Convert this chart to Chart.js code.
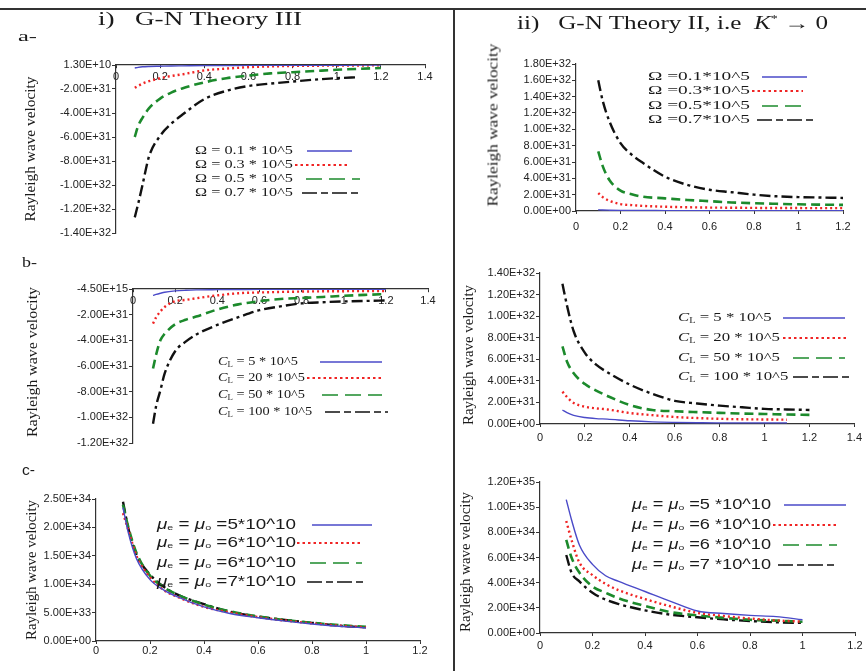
<!DOCTYPE html>
<html><head><meta charset="utf-8">
<script src="https://cdn.jsdelivr.net/npm/chart.js@4.4.1/dist/chart.umd.min.js"></script>
<style>
html,body{margin:0;padding:0;background:#fff;width:866px;height:671px;overflow:hidden;position:relative;}
canvas{position:absolute;left:0;top:0;}
.t{position:absolute;white-space:nowrap;transform-origin:0 50%;color:#1a1a1a;font-family:'Liberation Serif',serif;}
.vt{position:absolute;white-space:nowrap;color:#1a1a1a;font-family:'Liberation Serif',serif;font-size:15px;line-height:17px;}
.hl{position:absolute;background:#333;}
</style></head><body>
<canvas id="ia" width="866" height="671"></canvas>
<canvas id="ib" width="866" height="671"></canvas>
<canvas id="ic" width="866" height="671"></canvas>
<canvas id="iia" width="866" height="671"></canvas>
<canvas id="iib" width="866" height="671"></canvas>
<canvas id="iic" width="866" height="671"></canvas>

<div class="hl" style="left:0;top:8px;width:866px;height:2px"></div>
<div class="hl" style="left:453px;top:8px;width:2px;height:663px"></div>
<div class="t" data-w="204" style="left:98px;top:7px;font-size:18px;line-height:24px">i)&nbsp;&nbsp; G-N Theory III</div>
<div class="t" data-w="311" style="left:517px;top:7px;font-size:18px;line-height:24px">ii)&nbsp;&nbsp; G-N Theory II, i.e&nbsp;&nbsp;<i>K</i><sup style="font-size:10px">*</sup> &rarr; 0</div>
<div class="t" data-w="19" style="left:18px;top:27px;font-size:15px;line-height:18px">a-</div>
<div class="t" data-w="15" style="left:22px;top:253px;font-size:15px;line-height:18px">b-</div>
<div class="t" data-w="13" style="left:22px;top:461px;font-size:14px;line-height:18px;font-family:'Liberation Sans',sans-serif">c-</div>

<div class="vt" data-w="145" style="left:30px;top:149px">Rayleigh wave velocity</div>
<div class="vt" data-w="163" style="left:493px;top:125px">Rayleigh wave velocity</div>
<div class="vt" data-w="150" style="left:32px;top:362px">Rayleigh wave velocity</div>
<div class="vt" data-w="140" style="left:468px;top:355px">Rayleigh wave velocity</div>
<div class="vt" data-w="140" style="left:31px;top:570px">Rayleigh wave velocity</div>
<div class="vt" data-w="140" style="left:465px;top:562px">Rayleigh wave velocity</div>

<script>
// ================= DATA =================
// Panel i-a : G-N Theory III, varying Omega
const xIa = [0.085, 0.1, 0.12, 0.15, 0.2, 0.25, 0.3, 0.4, 0.5, 0.6, 0.7, 0.8, 0.9, 1.0, 1.1, 1.2];
const iaOm01 = [-0.25e31, -0.2e31, -0.15e31, -0.12e31, -0.1e31, -0.08e31, -0.07e31, -0.05e31, -0.04e31, -0.03e31, -0.03e31, -0.02e31, -0.02e31, -0.02e31, -0.01e31, -0.01e31];
const iaOm03 = [-1.9e31, -1.75e31, -1.55e31, -1.35e31, -1.1e31, -0.92e31, -0.78e31, -0.45e31, -0.3e31, -0.18e31, -0.12e31, -0.08e31, -0.06e31, -0.05e31, -0.04e31, -0.03e31];
const iaOm05 = [-6.0e31, -5.1e31, -4.4e31, -3.6e31, -2.8e31, -2.3e31, -1.95e31, -1.45e31, -1.1e31, -0.88e31, -0.7e31, -0.6e31, -0.5e31, -0.4e31, -0.32e31, -0.25e31];
const iaOm07 = [-12.7e31, -11.6e31, -10.0e31, -7.6e31, -5.9e31, -4.9e31, -4.15e31, -2.85e31, -2.15e31, -1.75e31, -1.55e31, -1.38e31, -1.22e31, -1.1e31, -1.02e31, null];
const iaLabels = ["Ω = 0.1 * 10^5", "Ω = 0.3 * 10^5", "Ω = 0.5 * 10^5", "Ω = 0.7 * 10^5"];
const iaYTicks = [-1.4e32, -1.2e32, -1.0e32, -8e31, -6e31, -4e31, -2e31, 0];
const iaYTickLabels = ["-1.40E+32", "-1.20E+32", "-1.00E+32", "-8.00E+31", "-6.00E+31", "-4.00E+31", "-2.00E+31", "1.30E+10"];

// Panel i-b : G-N Theory III, varying C_L
const xIb = [0.095, 0.11, 0.13, 0.15, 0.2, 0.25, 0.3, 0.4, 0.5, 0.6, 0.7, 0.8, 0.9, 1.0, 1.1, 1.2];
const ibC5 = [-0.5e31, -0.42e31, -0.33e31, -0.25e31, -0.15e31, -0.1e31, -0.07e31, -0.05e31, -0.04e31, -0.03e31, -0.03e31, -0.02e31, -0.02e31, -0.02e31, -0.02e31, -0.02e31];
const ibC20 = [-2.7e31, -2.2e31, -1.75e31, -1.4e31, -0.95e31, -0.85e31, -0.72e31, -0.5e31, -0.33e31, -0.27e31, -0.23e31, -0.2e31, -0.18e31, -0.17e31, -0.16e31, -0.15e31];
const ibC50 = [-6.2e31, -5.1e31, -4.0e31, -3.5e31, -2.75e31, -2.4e31, -2.15e31, -1.6e31, -1.2e31, -0.95e31, -0.78e31, -0.7e31, -0.62e31, -0.53e31, -0.46e31, -0.4e31];
const ibC100 = [-10.5e31, -9.1e31, -7.9e31, -6.6e31, -4.85e31, -4.1e31, -3.55e31, -2.8e31, -2.2e31, -1.65e31, -1.35e31, -1.12e31, -1.03e31, -0.97e31, -0.93e31, -0.9e31];
const ibLabels = ["C_L = 5 * 10^5", "C_L = 20 * 10^5", "C_L = 50 * 10^5", "C_L = 100 * 10^5"];
const ibYTicks = [-1.2e32, -1.0e32, -8e31, -6e31, -4e31, -2e31, 0];
const ibYTickLabels = ["-1.20E+32", "-1.00E+32", "-8.00E+31", "-6.00E+31", "-4.00E+31", "-2.00E+31", "-4.50E+15"];

// Panel i-c : G-N Theory III, varying mu
const xIc = [0.1, 0.12, 0.15, 0.2, 0.25, 0.3, 0.4, 0.5, 0.6, 0.7, 0.8, 0.9, 1.0];
const icMu5 = [2.35e34, 1.9e34, 1.45e34, 1.08e34, 0.9e34, 0.78e34, 0.6e34, 0.48e34, 0.41e34, 0.35e34, 0.3e34, 0.26e34, 0.23e34];
const icMu6a = [2.25e34, 1.95e34, 1.5e34, 1.12e34, 0.9e34, 0.78e34, 0.6e34, 0.5e34, 0.42e34, 0.36e34, 0.31e34, 0.27e34, 0.24e34];
const icMu6b = [2.4e34, 2.0e34, 1.55e34, 1.15e34, 0.95e34, 0.82e34, 0.64e34, 0.52e34, 0.43e34, 0.37e34, 0.32e34, 0.28e34, 0.25e34];
const icMu7 = [2.45e34, 1.98e34, 1.52e34, 1.17e34, 0.96e34, 0.82e34, 0.65e34, 0.51e34, 0.43e34, 0.37e34, 0.32e34, 0.27e34, 0.24e34];
const icLabels = ["μ_e = μ_o =5*10^10", "μ_e = μ_o =6*10^10", "μ_e = μ_o =6*10^10", "μ_e = μ_o =7*10^10"];
const icYTicks = [0, 5e33, 1e34, 1.5e34, 2e34, 2.5e34];
const icYTickLabels = ["0.00E+00", "5.00E+33", "1.00E+34", "1.50E+34", "2.00E+34", "2.50E+34"];

// Panel ii-a : G-N Theory II, varying Omega
const xIIa = [0.1, 0.12, 0.15, 0.2, 0.25, 0.3, 0.4, 0.5, 0.6, 0.7, 0.8, 0.9, 1.0, 1.1, 1.2];
const iiaOm01 = [0.15e31, 0.12e31, 0.1e31, 0.08e31, 0.07e31, 0.06e31, 0.05e31, 0.04e31, 0.04e31, 0.03e31, 0.03e31, 0.03e31, 0.03e31, 0.03e31, 0.03e31];
const iiaOm03 = [2.2e31, 1.7e31, 1.25e31, 0.85e31, 0.72e31, 0.63e31, 0.52e31, 0.46e31, 0.42e31, 0.4e31, 0.38e31, 0.37e31, 0.36e31, 0.35e31, 0.35e31];
const iiaOm05 = [7.3e31, 5.5e31, 3.8e31, 2.5e31, 2.05e31, 1.75e31, 1.55e31, 1.35e31, 1.2e31, 1.05e31, 0.95e31, 0.88e31, 0.82e31, 0.78e31, 0.75e31];
const iiaOm07 = [16.0e31, 13.5e31, 11.0e31, 8.3e31, 6.9e31, 5.9e31, 4.2e31, 3.2e31, 2.6e31, 2.3e31, 2.0e31, 1.8e31, 1.7e31, 1.65e31, 1.6e31];
const iiaLabels = ["Ω =0.1*10^5", "Ω =0.3*10^5", "Ω =0.5*10^5", "Ω =0.7*10^5"];
const iiaYTicks = [0, 2e31, 4e31, 6e31, 8e31, 1e32, 1.2e32, 1.4e32, 1.6e32, 1.8e32];
const iiaYTickLabels = ["0.00E+00", "2.00E+31", "4.00E+31", "6.00E+31", "8.00E+31", "1.00E+32", "1.20E+32", "1.40E+32", "1.60E+32", "1.80E+32"];

// Panel ii-b : G-N Theory II, varying C_L
const xIIb = [0.1, 0.12, 0.15, 0.2, 0.25, 0.3, 0.4, 0.5, 0.6, 0.7, 0.8, 0.9, 1.0, 1.1, 1.2];
const iibC5 = [1.3e31, 1.05e31, 0.8e31, 0.6e31, 0.5e31, 0.45e31, 0.3e31, 0.2e31, 0.15e31, 0.12e31, 0.1e31, 0.1e31, 0.1e31, 0.1e31, null];
const iibC20 = [3.0e31, 2.5e31, 1.95e31, 1.6e31, 1.45e31, 1.35e31, 1.02e31, 0.82e31, 0.65e31, 0.55e31, 0.48e31, 0.44e31, 0.42e31, 0.4e31, null];
const iibC50 = [7.2e31, 5.8e31, 4.7e31, 3.7e31, 3.1e31, 2.6e31, 1.75e31, 1.3e31, 1.18e31, 1.1e31, 1.03e31, 0.97e31, 0.93e31, 0.88e31, 0.85e31];
const iibC100 = [13.0e31, 11.0e31, 8.6e31, 6.6e31, 5.5e31, 4.8e31, 3.65e31, 2.8e31, 2.15e31, 1.9e31, 1.7e31, 1.55e31, 1.4e31, 1.35e31, 1.3e31];
const iibLabels = ["C_L = 5 * 10^5", "C_L = 20 * 10^5", "C_L = 50 * 10^5", "C_L = 100 * 10^5"];
const iibYTicks = [0, 2e31, 4e31, 6e31, 8e31, 1e32, 1.2e32, 1.4e32];
const iibYTickLabels = ["0.00E+00", "2.00E+31", "4.00E+31", "6.00E+31", "8.00E+31", "1.00E+32", "1.20E+32", "1.40E+32"];

// Panel ii-c : G-N Theory II, varying mu
const xIIc = [0.1, 0.12, 0.15, 0.2, 0.25, 0.3, 0.4, 0.5, 0.6, 0.7, 0.8, 0.9, 1.0];
const iicMu5 = [10.6e34, 9.0e34, 7.0e34, 5.45e34, 4.55e34, 4.1e34, 3.3e34, 2.5e34, 1.75e34, 1.55e34, 1.4e34, 1.3e34, 1.05e34];
const iicMu6a = [8.9e34, 7.4e34, 5.6e34, 4.6e34, 3.9e34, 3.4e34, 2.7e34, 2.1e34, 1.6e34, 1.35e34, 1.15e34, 1.0e34, 0.9e34];
const iicMu6b = [7.4e34, 6.0e34, 4.8e34, 3.7e34, 3.2e34, 2.75e34, 2.15e34, 1.65e34, 1.4e34, 1.2e34, 1.05e34, 0.98e34, 0.9e34];
const iicMu7 = [6.2e34, 4.8e34, 4.1e34, 3.2e34, 2.65e34, 2.3e34, 1.8e34, 1.45e34, 1.25e34, 1.08e34, 0.95e34, 0.85e34, 0.8e34];
const iicLabels = ["μ_e = μ_o =5 *10^10", "μ_e = μ_o =6 *10^10", "μ_e = μ_o =6 *10^10", "μ_e = μ_o =7 *10^10"];
const iicYTicks = [0, 2e34, 4e34, 6e34, 8e34, 1e35, 1.2e35];
const iicYTickLabels = ["0.00E+00", "2.00E+34", "4.00E+34", "6.00E+34", "8.00E+34", "1.00E+35", "1.20E+35"];

// x tick labels
const xTicks14 = [0, 0.2, 0.4, 0.6, 0.8, 1.0, 1.2, 1.4];
const xTickLabels14 = ["0", "0.2", "0.4", "0.6", "0.8", "1", "1.2", "1.4"];
const xTicks12 = [0, 0.2, 0.4, 0.6, 0.8, 1.0, 1.2];
const xTickLabels12 = ["0", "0.2", "0.4", "0.6", "0.8", "1", "1.2"];

// ================= STYLE / DRAWING =================
const W = 866, H = 671;
const STY = [
  {borderColor: '#4a4ac8', borderWidth: 1.4, borderDash: [], legendDash: [], legendWidth: 1.4},
  {borderColor: '#f02424', borderWidth: 2.4, borderDash: [2, 3], legendDash: [2.5, 3], legendWidth: 2},
  {borderColor: '#1c8a2c', borderWidth: 2.6, borderDash: [9, 5], legendDash: [16, 7], legendWidth: 1.4},
  {borderColor: '#111111', borderWidth: 2.4, borderDash: [11, 4, 3, 4], legendDash: [15, 4, 7, 4], legendWidth: 1.4}
];

function parseLabel(s) {
  const out = [];
  let i = 0, buf = '';
  while (i < s.length) {
    if (s[i] === '_' && i + 1 < s.length) {
      const sym = buf.slice(-1);
      buf = buf.slice(0, -1);
      if (buf) out.push({t: buf});
      out.push({t: sym, it: true});
      out.push({t: s[i + 1], sub: true});
      buf = '';
      i += 2;
    } else { buf += s[i]; i++; }
  }
  if (buf) out.push({t: buf});
  return out;
}

function legendPlugin(L) {
  return {
    id: 'sideLegend',
    afterDatasetsDraw(chart) {
      const ctx = chart.ctx;
      const dss = chart.data.datasets;
      const fontFor = p => (p.it ? 'italic ' : '') + (p.sub ? Math.round(L.size * 0.6) : L.size) + 'px ' + L.family;
      const measure = lab => {
        let w = 0;
        parseLabel(lab).forEach(p => { ctx.font = fontFor(p); w += ctx.measureText(p.t).width; });
        return w;
      };
      const sx = L.refWidth / measure(dss[1].label);
      dss.forEach((ds, i) => {
        const y = L.rows[i];
        ctx.save();
        ctx.translate(L.x, y);
        ctx.scale(sx, 1);
        ctx.fillStyle = '#1a1a1a';
        ctx.textBaseline = 'middle';
        ctx.textAlign = 'left';
        let cx = 0;
        parseLabel(ds.label).forEach(p => {
          ctx.font = fontFor(p);
          ctx.fillText(p.t, cx, p.sub ? 3 : 0);
          cx += ctx.measureText(p.t).width;
        });
        ctx.restore();
        const seg = L.lines[i];
        ctx.save();
        ctx.strokeStyle = ds.borderColor;
        ctx.lineWidth = ds.legendWidth;
        ctx.setLineDash(ds.legendDash);
        ctx.beginPath();
        ctx.moveTo(seg[0], y);
        ctx.lineTo(seg[1], y);
        ctx.stroke();
        ctx.restore();
      });
    }
  };
}

function pts(xs, ys) { return xs.map((x, i) => ({x: x, y: ys[i]})); }

const tickFont = {family: 'Liberation Sans', size: 11};

function makeChart(id, p) {
  const datasets = p.series.map((ys, i) => Object.assign({
    label: p.labels[i], data: pts(p.x, ys), showLine: true, pointRadius: 0, fill: false,
    cubicInterpolationMode: 'monotone', spanGaps: false
  }, STY[i]));
  const xH = 20;
  const padding = {
    left: p.area.l - p.yW, right: W - p.area.r, top: p.area.t,
    bottom: p.topAxis ? H - p.area.b : H - p.area.b - xH
  };
  new Chart(document.getElementById(id), {
    type: 'scatter',
    data: {datasets: datasets},
    options: {
      responsive: false, animation: false, devicePixelRatio: 1, events: [],
      layout: {padding: padding},
      plugins: {legend: {display: false}, tooltip: {enabled: false}},
      scales: {
        x: {
          type: 'linear', min: p.xMin, max: p.xMax,
          position: p.topAxis ? {y: 0} : 'bottom',
          afterBuildTicks: s => { s.ticks = p.xTicks.map(v => ({value: v})); },
          afterFit: s => { if (!p.topAxis) s.height = xH; },
          grid: {drawOnChartArea: false, drawTicks: true, tickLength: 3, color: '#333'},
          border: {display: true, color: '#333', width: 1.2},
          ticks: {callback: (v, i) => p.xLabels[i], autoSkip: false, maxRotation: 0, padding: p.xPad, font: tickFont, color: '#222'}
        },
        y: {
          type: 'linear', min: p.yMin, max: p.yMax, position: 'left',
          afterBuildTicks: s => { s.ticks = p.yTicks.map(v => ({value: v})); },
          afterFit: s => { s.width = p.yW; },
          grid: {drawOnChartArea: false, drawTicks: true, tickLength: 4, color: '#333'},
          border: {display: true, color: '#333', width: 1.2},
          ticks: {callback: (v, i) => p.yLabels[i], autoSkip: false, padding: 1, font: tickFont, color: '#222'}
        }
      }
    },
    plugins: [legendPlugin(p.legend)]
  });
}

Chart.defaults.font.family = 'Liberation Sans';

makeChart('ia', {
  area: {l: 116, r: 425, t: 65, b: 233}, yW: 100, topAxis: true, xPad: 2,
  xMin: 0, xMax: 1.4, xTicks: xTicks14, xLabels: xTickLabels14,
  yMin: -1.4e32, yMax: 0, yTicks: iaYTicks, yLabels: iaYTickLabels,
  x: xIa, series: [iaOm01, iaOm03, iaOm05, iaOm07], labels: iaLabels,
  legend: {x: 195, rows: [151, 165, 179, 193], lines: [[307, 352], [295, 348], [306, 360], [302, 362]],
           family: "'Liberation Serif'", size: 13, refWidth: 98}
});
makeChart('ib', {
  area: {l: 133, r: 428, t: 289, b: 443}, yW: 115, topAxis: true, xPad: 2,
  xMin: 0, xMax: 1.4, xTicks: xTicks14, xLabels: xTickLabels14,
  yMin: -1.2e32, yMax: 0, yTicks: ibYTicks, yLabels: ibYTickLabels,
  x: xIb, series: [ibC5, ibC20, ibC50, ibC100], labels: ibLabels,
  legend: {x: 218, rows: [362, 378, 395, 412], lines: [[320, 382], [307, 383], [322, 382], [325, 388]],
           family: "'Liberation Serif'", size: 13, refWidth: 87}
});
makeChart('ic', {
  area: {l: 96, r: 420, t: 499, b: 641}, yW: 80, topAxis: false, xPad: 0,
  xMin: 0, xMax: 1.2, xTicks: xTicks12, xLabels: xTickLabels12,
  yMin: 0, yMax: 2.5e34, yTicks: icYTicks, yLabels: icYTickLabels,
  x: xIc, series: [icMu5, icMu6a, icMu6b, icMu7], labels: icLabels,
  legend: {x: 157, rows: [525, 543, 563, 582], lines: [[312, 372], [297, 363], [310, 362], [307, 363]],
           family: "'Liberation Sans'", size: 14, refWidth: 139}
});
makeChart('iia', {
  area: {l: 576, r: 843, t: 64, b: 211}, yW: 100, topAxis: false, xPad: 6,
  xMin: 0, xMax: 1.2, xTicks: xTicks12, xLabels: xTickLabels12,
  yMin: 0, yMax: 1.8e32, yTicks: iiaYTicks, yLabels: iiaYTickLabels,
  x: xIIa, series: [iiaOm01, iiaOm03, iiaOm05, iiaOm07], labels: iiaLabels,
  legend: {x: 648, rows: [77, 91, 106, 120], lines: [[762, 807], [752, 803], [762, 807], [757, 817]],
           family: "'Liberation Serif'", size: 13, refWidth: 102}
});
makeChart('iib', {
  area: {l: 540, r: 857, t: 273, b: 424}, yW: 85, topAxis: false, xPad: 4,
  xMin: 0, xMax: 1.4, xTicks: xTicks14, xLabels: xTickLabels14,
  yMin: 0, yMax: 1.4e32, yTicks: iibYTicks, yLabels: iibYTickLabels,
  x: xIIb, series: [iibC5, iibC20, iibC50, iibC100], labels: iibLabels,
  legend: {x: 678, rows: [318, 338, 358, 377], lines: [[783, 845], [783, 847], [793, 845], [793, 853]],
           family: "'Liberation Serif'", size: 13, refWidth: 102}
});
makeChart('iic', {
  area: {l: 540, r: 855, t: 482, b: 633}, yW: 85, topAxis: false, xPad: 3,
  xMin: 0, xMax: 1.2, xTicks: xTicks12, xLabels: xTickLabels12,
  yMin: 0, yMax: 1.2e35, yTicks: iicYTicks, yLabels: iicYTickLabels,
  x: xIIc, series: [iicMu5, iicMu6a, iicMu6b, iicMu7], labels: iicLabels,
  legend: {x: 632, rows: [505, 525, 545, 565], lines: [[784, 846], [773, 837], [783, 837], [778, 837]],
           family: "'Liberation Sans'", size: 14, refWidth: 139}
});

// stretch HTML texts to reference widths
document.querySelectorAll('.t').forEach(el => {
  const w = el.getBoundingClientRect().width;
  el.style.transform = 'scaleX(' + (parseFloat(el.dataset.w) / w) + ')';
});
document.querySelectorAll('.vt').forEach(el => {
  const w = el.getBoundingClientRect().width;
  el.style.transform = 'translate(-50%,-50%) rotate(-90deg) scaleX(' + (parseFloat(el.dataset.w) / w) + ')';
});
</script>
</body></html>
